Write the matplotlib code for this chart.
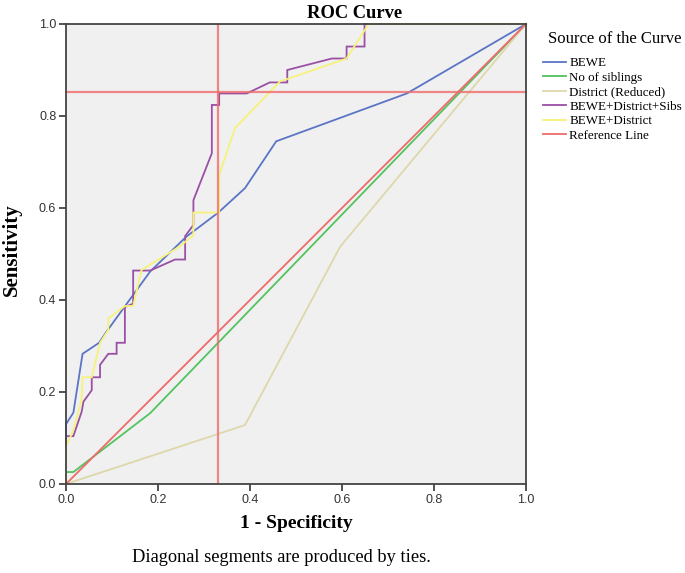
import matplotlib
matplotlib.use("Agg")
import matplotlib.pyplot as plt

# ---- data ----
bewe_x = [0, 0, 0.016, 0.036, 0.072, 0.088, 0.143, 0.183, 0.262, 0.331, 0.389, 0.457, 0.741, 1.0]
bewe_y = [0, 0.13, 0.155, 0.283, 0.307, 0.331, 0.407, 0.462, 0.538, 0.59, 0.643, 0.745, 0.849, 1.0]

sib_x = [0, 0, 0.016, 0.183, 1.0]
sib_y = [0, 0.026, 0.026, 0.154, 1.0]

dist_x = [0, 0.389, 0.596, 1.0]
dist_y = [0, 0.128, 0.516, 1.0]

bds_x = [0, 0, 0.016, 0.034, 0.038, 0.056, 0.056, 0.074, 0.074, 0.092, 0.110, 0.110, 0.128, 0.128,
         0.146, 0.146, 0.183, 0.237, 0.259, 0.259, 0.277, 0.277, 0.317, 0.317, 0.333, 0.333, 0.393,
         0.443, 0.481, 0.481, 0.578, 0.610, 0.610, 0.649, 0.649, 1.0]
bds_y = [0, 0.104, 0.104, 0.157, 0.179, 0.204, 0.232, 0.232, 0.259, 0.283, 0.283, 0.307, 0.307, 0.385,
         0.392, 0.464, 0.464, 0.488, 0.488, 0.539, 0.563, 0.617, 0.719, 0.824, 0.824, 0.849, 0.849,
         0.873, 0.873, 0.900, 0.925, 0.925, 0.951, 0.951, 1.0, 1.0]

bd_x = [0, 0, 0.016, 0.034, 0.036, 0.056, 0.074, 0.092, 0.092, 0.128, 0.146, 0.164, 0.248, 0.277,
        0.277, 0.333, 0.333, 0.367, 0.465, 0.610, 0.658, 1.0]
bd_y = [0, 0.081, 0.117, 0.183, 0.232, 0.232, 0.307, 0.335, 0.360, 0.387, 0.387, 0.465, 0.517, 0.541,
        0.590, 0.590, 0.672, 0.773, 0.875, 0.925, 1.0, 1.0]

ref_x = [0, 1]
ref_y = [0, 1]

cut_spec = 0.330
cut_sens = 0.852

labels = ["BEWE", "No of siblings", "District (Reduced)", "BEWE+District+Sibs", "BEWE+District", "Reference Line"]
colors = ["#5b74c6", "#52c35e", "#ddd8aa", "#9a50a5", "#f6f27a", "#ef6b6b"]
xticks = [0.0, 0.2, 0.4, 0.6, 0.8, 1.0]
yticks = [0.0, 0.2, 0.4, 0.6, 0.8, 1.0]

# ---- figure ----
W, H = 685, 573
fig = plt.figure(figsize=(W / 100, H / 100), dpi=100)
ax = fig.add_axes([66 / W, 1 - 484 / H, 460 / W, 460 / H])
ax.set_facecolor("#f0f0f0")

lw = 1.3
series = [(bewe_x, bewe_y), (sib_x, sib_y), (dist_x, dist_y), (bds_x, bds_y), (bd_x, bd_y), (ref_x, ref_y)]
handles = []
for (xs, ys), c, lab in zip(series, colors, labels):
    h, = ax.plot(xs, ys, color=c, lw=lw, label=lab, solid_joinstyle="miter", clip_on=False)
    handles.append(h)

ax.axvline(cut_spec, color="#ef6b6b", lw=1.6, alpha=0.8)
ax.axhline(cut_sens, color="#ef6b6b", lw=1.6, alpha=0.8)

ax.set_xlim(0, 1)
ax.set_ylim(0, 1)
ax.set_xticks(xticks)
ax.set_yticks(yticks)
ax.set_xticklabels([f"{t:.1f}" for t in xticks], fontfamily="Liberation Sans", fontsize=9, color="#333333")
ax.set_yticklabels([f"{t:.1f}" for t in yticks], fontfamily="Liberation Sans", fontsize=9, color="#333333")
ax.tick_params(direction="out", length=5, width=1.2, color="#333333", pad=2)
for s in ax.spines.values():
    s.set_color("#444444")
    s.set_linewidth(1.3)

fig.text(296 / W, 1 - 523 / H, "1 - Specificity", ha="center", va="center",
         fontfamily="Liberation Serif", fontweight="bold", fontsize=14)
fig.text(12 / W, 1 - 250 / H, "Sensitivity", ha="center", va="center", rotation=90,
         fontfamily="Liberation Serif", fontweight="bold", fontsize=15)

fig.text(355 / W, 1 - 13 / H, "ROC Curve", ha="center", va="center",
         fontfamily="Liberation Serif", fontweight="bold", fontsize=13.3)
fig.text(132 / W, 1 - 558 / H, "Diagonal segments are produced by ties.", ha="left", va="center",
         fontfamily="Liberation Serif", fontsize=13.2)

fig.text(548 / W, 1 - 39 / H, "Source of the Curve", ha="left", va="center",
         fontfamily="Liberation Serif", fontsize=12)
leg = fig.legend(handles=handles, labels=labels, loc="upper left", bbox_to_anchor=(543 / W, 1 - 57 / H),
                 frameon=False, prop={"family": "Liberation Serif", "size": 9.4},
                 handlelength=1.75, handletextpad=0.25, labelspacing=0.18, borderpad=0, borderaxespad=0)

fig.savefig("out.png", dpi=100)
